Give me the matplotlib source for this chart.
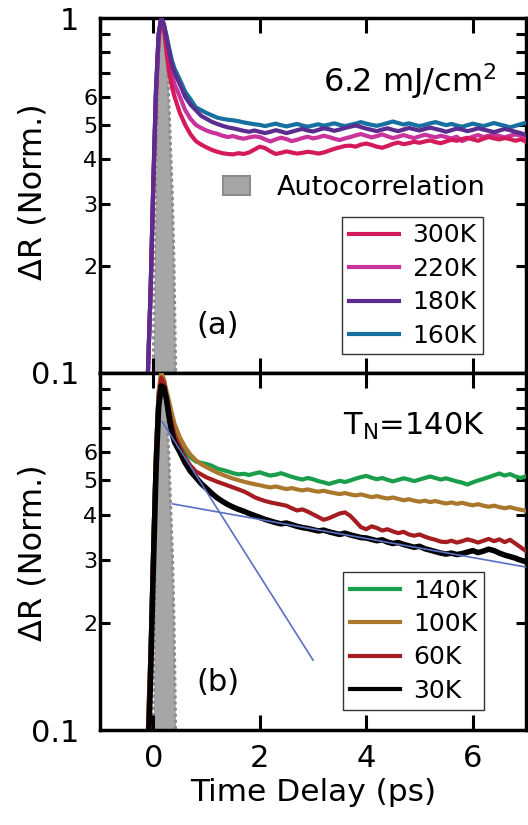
import matplotlib
matplotlib.use('Agg')
import matplotlib.pyplot as plt
from matplotlib.patches import Patch
from matplotlib.lines import Line2D

plt.rcParams['font.family'] = ['DejaVu Sans']
plt.rcParams['mathtext.fontset'] = 'dejavusans'

# === Time axis (ps): early part + tail ===
t_early = [-0.2, -0.1, -0.05, 0.0, 0.05, 0.1, 0.15, 0.2, 0.25, 0.3, 0.35, 0.4,
           0.5, 0.6, 0.7, 0.8, 0.9]
t_tail = [1.0, 1.1, 1.2, 1.3, 1.4, 1.5, 1.6, 1.7, 1.8, 1.9,
          2.0, 2.1, 2.2, 2.3, 2.4, 2.5, 2.6, 2.7, 2.8, 2.9,
          3.0, 3.1, 3.2, 3.3, 3.4, 3.5, 3.6, 3.7, 3.8, 3.9,
          4.0, 4.1, 4.2, 4.3, 4.4, 4.5, 4.6, 4.7, 4.8, 4.9,
          5.0, 5.1, 5.2, 5.3, 5.4, 5.5, 5.6, 5.7, 5.8, 5.9,
          6.0, 6.1, 6.2, 6.3, 6.4, 6.5, 6.6, 6.7, 6.8, 6.9, 7.0]
time = t_early + t_tail

# === Panel (a): 6.2 mJ/cm2 ===
r300 = [0.06, 0.1, 0.17, 0.33, 0.6, 0.88, 1.0, 0.93, 0.8, 0.7, 0.64, 0.6,
        0.54, 0.5, 0.47, 0.45, 0.44,
        .432, .425, .420, .416, .414, .413, .416, .414, .418, .426,
        .434, .430, .421, .414, .417, .421, .418, .415, .417, .420,
        .418, .415, .418, .423, .428, .432, .436, .437, .434, .440,
        .443, .439, .434, .431, .436, .442, .446, .441, .444, .448,
        .445, .449, .452, .447, .444, .449, .454, .451, .456, .460,
        .455, .451, .457, .462, .458, .455, .459, .456, .451, .455, .449]
r220 = [0.06, 0.1, 0.17, 0.33, 0.6, 0.88, 1.0, 0.95, 0.85, 0.76, 0.69, 0.65,
        0.6, 0.55, 0.52, 0.5, 0.49,
        .482, .476, .472, .466, .462, .465, .460, .457, .461, .464,
        .462, .455, .449, .455, .460, .456, .450, .454, .459, .463,
        .458, .461, .466, .462, .457, .453, .458, .462, .467, .471,
        .466, .461, .465, .470, .464, .459, .463, .468, .463, .459,
        .464, .469, .465, .461, .466, .462, .458, .463, .450, .457,
        .463, .468, .462, .466, .470, .465, .461, .466, .470, .466, .461]
r180 = [0.06, 0.1, 0.17, 0.34, 0.62, 0.9, 1.0, 0.96, 0.88, 0.8, 0.74, 0.7,
        0.65, 0.6, 0.57, 0.55, 0.53,
        .520, .510, .503, .497, .492, .489, .485, .481, .478, .482,
        .478, .474, .478, .483, .479, .474, .478, .483, .487, .482,
        .479, .484, .489, .486, .481, .485, .490, .494, .498, .493,
        .488, .484, .480, .485, .489, .484, .480, .485, .490, .486,
        .482, .487, .491, .487, .483, .478, .483, .488, .485, .480,
        .484, .489, .485, .481, .477, .482, .487, .483, .478, .474, .468]
r160 = [0.06, 0.1, 0.17, 0.34, 0.62, 0.9, 1.0, 0.96, 0.89, 0.82, 0.76, 0.72,
        0.67, 0.62, 0.59, 0.56, 0.55,
        .540, .532, .524, .520, .517, .515, .512, .508, .505, .502,
        .500, .496, .500, .504, .499, .495, .499, .503, .498, .494,
        .498, .502, .497, .501, .505, .500, .496, .500, .504, .509,
        .504, .500, .497, .501, .506, .511, .506, .501, .505, .500,
        .496, .500, .505, .509, .504, .499, .503, .498, .494, .499,
        .504, .500, .496, .501, .506, .501, .497, .492, .497, .502, .507]

# === Panel (b): temperatures below T_N ===
r140 = [0.06, 0.1, 0.17, 0.33, 0.6, 0.88, 1.0, 0.95, 0.87, 0.8, 0.74, 0.69,
        0.64, 0.6, 0.58, 0.565, 0.56,
        .556, .550, .540, .535, .530, .524, .520, .522, .518, .523,
        .527, .521, .516, .519, .524, .518, .512, .507, .503, .508,
        .504, .498, .494, .489, .494, .499, .495, .500, .506, .511,
        .515, .509, .504, .508, .502, .497, .502, .507, .503, .498,
        .503, .508, .513, .508, .503, .507, .502, .497, .493, .487,
        .494, .500, .505, .511, .517, .523, .516, .521, .513, .508, .514]
r100 = [0.06, 0.1, 0.17, 0.33, 0.6, 0.88, 1.0, 0.96, 0.89, 0.83, 0.77, 0.72,
        0.66, 0.62, 0.59, 0.57, 0.555,
        .545, .535, .526, .519, .512, .506, .501, .496, .492, .488,
        .485, .481, .478, .481, .477, .473, .476, .472, .469, .472,
        .468, .465, .468, .464, .461, .458, .461, .457, .454, .457,
        .453, .449, .452, .448, .445, .448, .444, .440, .443, .439,
        .436, .439, .435, .438, .434, .431, .434, .430, .433, .429,
        .426, .429, .425, .422, .425, .421, .418, .421, .417, .414, .411]
r60 = [0.06, 0.1, 0.17, 0.33, 0.6, 0.86, 0.97, 0.94, 0.86, 0.78, 0.72, 0.67,
       0.62, 0.58, 0.55, 0.53, 0.52,
       .510, .503, .496, .490, .484, .478, .472, .466, .458, .449,
       .443, .438, .434, .431, .428, .425, .418, .412, .415, .409,
       .402, .395, .388, .392, .398, .404, .407, .398, .384, .370,
       .365, .372, .368, .362, .365, .360, .356, .359, .353, .350,
       .353, .348, .344, .341, .337, .336, .339, .335, .338, .342,
       .339, .335, .339, .343, .338, .342, .336, .341, .333, .325, .317]
r30 = [0.05, 0.08, 0.14, 0.28, 0.52, 0.8, 0.92, 0.91, 0.84, 0.75, 0.68, 0.64,
       0.6, 0.56, 0.53, 0.51, 0.49,
       .475, .460, .447, .437, .428, .421, .415, .410, .404, .399,
       .394, .389, .385, .381, .378, .380, .376, .372, .369, .367,
       .364, .361, .363, .359, .356, .353, .356, .352, .349, .346,
       .345, .342, .339, .341, .336, .333, .335, .331, .328, .325,
       .327, .322, .319, .316, .313, .311, .313, .310, .312, .315,
       .318, .314, .317, .321, .318, .313, .309, .306, .303, .299, .296]

# === Exponential fits to the 30K curve (end points) ===
fit_fast_t = [0.17, 3.0]
fit_fast_v = [0.73, 0.157]
fit_slow_t = [0.36, 7.0]
fit_slow_v = [0.43, 0.286]

# === Pump-probe autocorrelation ===
ac_t = [-0.04, 0.0, 0.02, 0.05, 0.09, 0.13, 0.17, 0.2, 0.23, 0.26, 0.3,
        0.33, 0.36, 0.39, 0.42, 0.45]
ac_v = [0.05, 0.1, 0.2, 0.4, 0.7, 0.92, 1.0, 0.95, 0.85, 0.76, 0.55,
        0.41, 0.31, 0.2, 0.1, 0.06]

top_series = [("300K", r300, "#d41a5b"), ("220K", r220, "#c8339c"),
              ("180K", r180, "#5a2d8e"), ("160K", r160, "#17709f")]
top_draw_order = ["160K", "220K", "300K", "180K"]
bot_series = [("140K", r140, "#1b9e4b"), ("100K", r100, "#a9782d"),
              ("60K", r60, "#a51d20"), ("30K", r30, "#000000")]

W, H = 528, 825
fig = plt.figure(figsize=(W / 100, H / 100), dpi=100)
ax1 = fig.add_axes([100 / W, 1 - 373 / H, 426 / W, 355 / H])
ax2 = fig.add_axes([100 / W, 1 - 730 / H, 426 / W, 357 / H])

minor_vals = [0.2, 0.3, 0.4, 0.5, 0.6, 0.7, 0.8, 0.9]
minor_labels = ['2', '3', '4', '5', '6', '', '', '']


def style_axes(ax, show_top_label):
    ax.set_yscale('log')
    ax.set_xlim(-1, 7)
    ax.set_ylim(0.1, 1)
    ax.fill_between(ac_t, 0.01, ac_v, color='#a6a6a6', lw=0, zorder=1)
    ax.plot(ac_t, ac_v, color='#8c8c8c', lw=2.2, ls=(0, (1, 1)), zorder=1.5)
    if show_top_label:
        ax.set_yticks([0.1, 1], ['0.1', '1'])
    else:
        ax.set_yticks([0.1, 1], ['0.1', ''])
    ax.set_yticks(minor_vals, minor_labels, minor=True)
    ax.set_xticks([0, 2, 4, 6])
    ax.tick_params(axis='both', which='both', direction='in', width=2.2,
                   top=True, right=True)
    ax.tick_params(axis='y', which='major', length=0, pad=15, labelsize=22)
    ax.tick_params(axis='y', which='minor', length=7, pad=2, labelsize=16)
    ax.tick_params(axis='x', which='major', length=11, pad=10, labelsize=22)
    for s in ax.spines.values():
        s.set_linewidth(2.5)
    ax.set_ylabel(u'\u0394R (Norm.)', fontsize=23)


def temp_legend(ax, series, x0, y0):
    leg = ax.legend(handles=[Line2D([], [], color=c, lw=3) for _, _, c in series],
                    labels=[n for n, _, _ in series], loc='upper left',
                    fontsize=18, handlelength=2.0, handletextpad=0.55,
                    labelspacing=0.38, borderpad=0.26, borderaxespad=0,
                    fancybox=False, edgecolor='black',
                    bbox_to_anchor=(x0 / W, 1 - y0 / H),
                    bbox_transform=fig.transFigure)
    leg.get_frame().set_linewidth(1.0)
    return leg


# === Panel (a) ===
style_axes(ax1, True)
lookup = {name: (vals, col) for name, vals, col in top_series}
for name in top_draw_order:
    vals, col = lookup[name]
    ax1.plot(time, vals, color=col, lw=3, zorder=3)
ax1.tick_params(axis='x', labelbottom=False)
ax1.yaxis.set_label_coords(-0.12, 0.51)

ac_leg = ax1.legend(handles=[Patch(facecolor='#a6a6a6', edgecolor='#8c8c8c', lw=1.5)],
                    labels=['Autocorrelation'], loc='center left', frameon=False,
                    fontsize=19.5, handlelength=1.0, handleheight=0.65,
                    handletextpad=1.0, borderpad=0, borderaxespad=0,
                    bbox_to_anchor=(223 / W, 1 - 188 / H),
                    bbox_transform=fig.transFigure)
ax1.add_artist(ac_leg)
temp_legend(ax1, top_series, 342, 217)
ax1.text(0.932, 0.792, '6.2 mJ/cm$^2$', transform=ax1.transAxes,
         ha='right', va='baseline', fontsize=23)
ax1.text(0.277, 0.135, '(a)', transform=ax1.transAxes,
         ha='center', va='center', fontsize=22)

# === Panel (b) ===
style_axes(ax2, False)
for name, vals, col in bot_series:
    ax2.plot(time, vals, color=col, lw=4 if name == "30K" else 3, zorder=3)
ax2.plot(fit_fast_t, fit_fast_v, color='#5b6fc4', lw=1.2, zorder=4)
ax2.plot(fit_slow_t, fit_slow_v, color='#5b6fc4', lw=1.2, zorder=4)
ax2.yaxis.set_label_coords(-0.12, 0.496)
ax2.set_xlabel('Time Delay (ps)', fontsize=22.5, labelpad=4)

temp_legend(ax2, bot_series, 343, 572)
ax2.text(0.904, 0.826, r'$\mathrm{T_N}$=140K', transform=ax2.transAxes,
         ha='right', va='baseline', fontsize=22)
ax2.text(0.277, 0.132, '(b)', transform=ax2.transAxes,
         ha='center', va='center', fontsize=22)

fig.savefig('out.png', dpi=100)
plt.close(fig)
